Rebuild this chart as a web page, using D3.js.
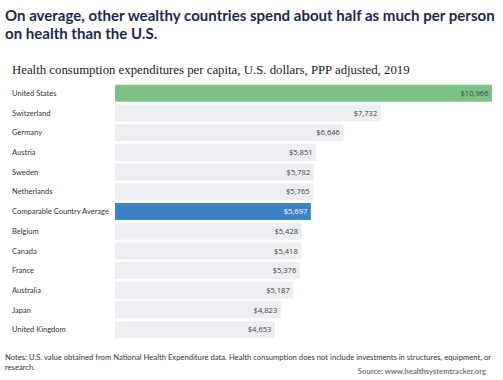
<!DOCTYPE html>
<html><head><meta charset="utf-8">
<script src="https://cdn.jsdelivr.net/npm/d3@7"></script>
<style>body{margin:0;background:#fff}svg{display:block}</style>
</head><body>
<script>
const categories = ["United States","Switzerland","Germany","Austria","Sweden","Netherlands","Comparable Country Average","Belgium","Canada","France","Australia","Japan","United Kingdom"];
const values = [10966,7732,6646,5851,5782,5765,5697,5428,5418,5376,5187,4823,4653];
const titleLines = ["On average, other wealthy countries spend about half as much per person","on health than the U.S."];
const subtitle = "Health consumption expenditures per capita, U.S. dollars, PPP adjusted, 2019";
const notes = ["Notes: U.S. value obtained from National Health Expenditure data. Health consumption does not include investments in structures, equipment, or","research."];
const source = "Source: www.healthsystemtracker.org";

const W = 503, H = 380;
const svg = d3.select("body").append("svg").attr("width", W).attr("height", H);

function fit(sel, target){
  const n = sel.node(); let fs = parseFloat(sel.attr("font-size"));
  const len = n.getComputedTextLength();
  if (len > 0) sel.attr("font-size", (fs * target / len).toFixed(2));
}

const t1 = svg.append("text").attr("x", 5).attr("y", 21).attr("font-family","Lato, 'Open Sans', sans-serif")
  .attr("font-weight", 700).attr("font-size", 16).attr("fill", "#1c2a4a").text(titleLines[0]);
fit(t1, 490);
svg.append("text").attr("x", 5).attr("y", 39).attr("font-family","Lato, 'Open Sans', sans-serif")
  .attr("font-weight", 700).attr("font-size", t1.attr("font-size")).attr("fill", "#1c2a4a").text(titleLines[1]);

const st = svg.append("text").attr("x", 12).attr("y", 74).attr("font-family","'Liberation Serif', serif")
  .attr("font-size", 13).attr("fill", "#222").text(subtitle);
fit(st, 398);

const x = d3.scaleLinear().domain([0, 10966]).range([115, 492]);
const y = d3.scaleBand().domain(categories).range([84.7, 338.2]).paddingInner(0.137).paddingOuter(0);

const colorFor = c => c === "United States" ? "#7dc285" : c === "Comparable Country Average" ? "#3d82c6" : "#eceef1";

// size category labels so the longest fits the reference width
const probe = svg.append("text").attr("font-family","Lato, sans-serif").attr("font-size", 8).text("Comparable Country Average");
fit(probe, 97);
const catFs = probe.attr("font-size");
probe.remove();

const rows = svg.append("g").selectAll("g").data(categories).join("g");
rows.append("rect").attr("x", x(0)).attr("y", c => y(c)).attr("height", y.bandwidth())
  .attr("width", (c,i) => x(values[i]) - x(0)).attr("fill", colorFor);
rows.append("text").attr("x", 12).attr("y", c => y(c) + y.bandwidth()/2).attr("dy","0.35em")
  .attr("font-family","Lato, sans-serif").attr("font-size", catFs).attr("fill", "#333").text(c => c);
rows.append("text").attr("x", (c,i) => x(values[i]) - 3.5).attr("y", c => y(c) + y.bandwidth()/2).attr("dy","0.35em")
  .attr("text-anchor","end").attr("font-family","'Open Sans', sans-serif").attr("font-size", 7.6)
  .attr("fill", c => c === "Comparable Country Average" ? "#fff" : "#444")
  .text((c,i) => "$" + d3.format(",")(values[i]));

svg.append("text").attr("x", 5).attr("y", 359.5).attr("font-family","Lato, sans-serif").attr("font-size", 7.6)
  .attr("fill", "#333").text(notes[0]).call(s => fit(s, 486));
svg.append("text").attr("x", 5).attr("y", 369.5).attr("font-family","Lato, sans-serif").attr("font-size", 7.6)
  .attr("fill", "#333").text(notes[1]);
svg.append("text").attr("x", 486).attr("y", 373.5).attr("text-anchor","end").attr("font-family","Lato, sans-serif")
  .attr("font-size", 7.6).attr("font-weight", 700).attr("fill", "#777").text(source);
</script>
</body></html>
